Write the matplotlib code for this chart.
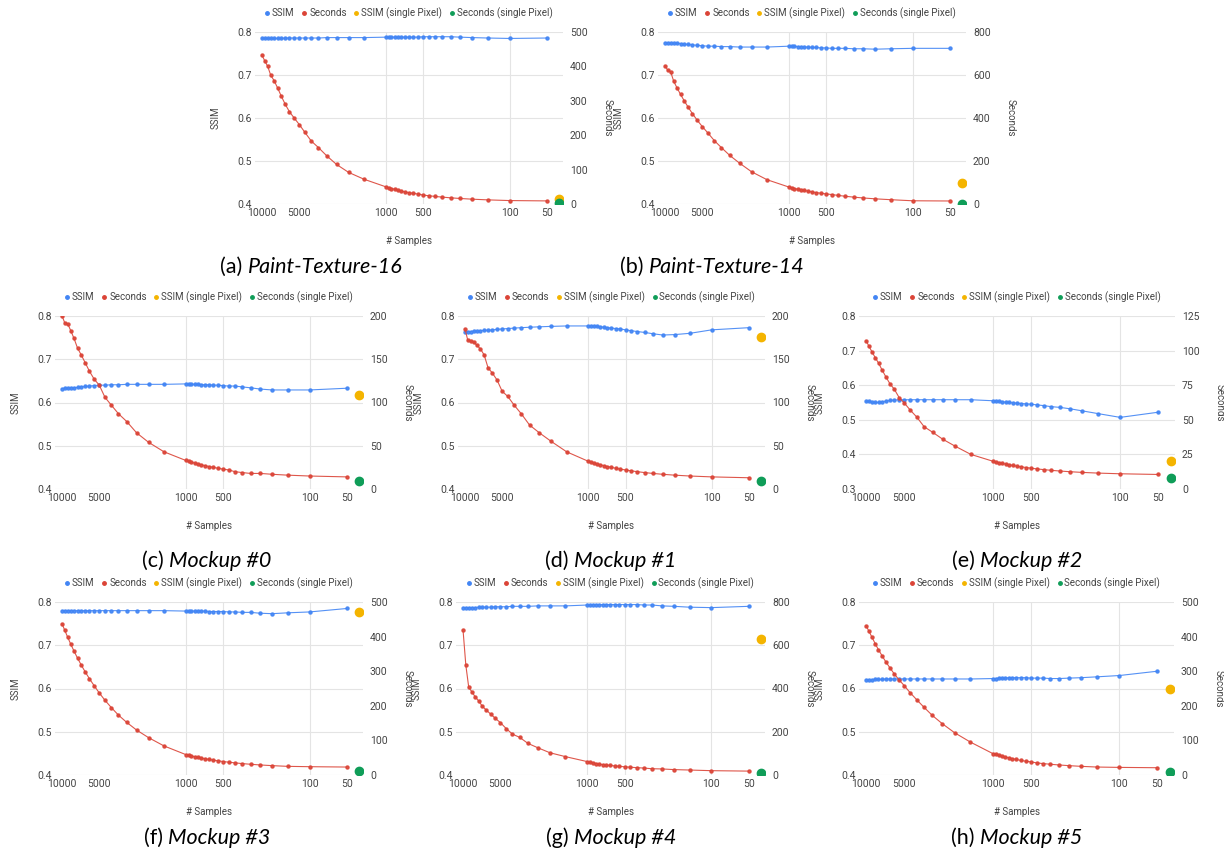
import matplotlib
matplotlib.use("Agg")
import matplotlib.pyplot as plt
from matplotlib.lines import Line2D

# ---------------- data ----------------
samples = [10000, 9500, 9000, 8500, 8000, 7500, 7000, 6500, 6000, 5500,
           5000, 4500, 4000, 3500, 3000, 2500, 2000, 1500, 1000, 950,
           900, 850, 800, 750, 700, 650, 600, 550, 500, 450,
           400, 350, 300, 250, 200, 150, 100, 50]
single_x = 40

captions = ["(a) ", "(b) ", "(c) ", "(d) ", "(e) ", "(f) ", "(g) ", "(h) "]
names = ["Paint-Texture-16", "Paint-Texture-14", "Mockup #0", "Mockup #1",
         "Mockup #2", "Mockup #3", "Mockup #4", "Mockup #5"]

sec_a = [432,416,400,374,359,338,314,290,268,250, 231,208,183,164,140,115,92,72,50,47,
         45,43,40,38,35,33,31,29,26,24, 22,20,18,16,14,12,10,9]
ssim_a = [0.785,0.785,0.785,0.785,0.785,0.785,0.785,0.786,0.786,0.786,
          0.786,0.786,0.786,0.786,0.787,0.787,0.787,0.787,0.788,0.788,
          0.788,0.788,0.788,0.788,0.788,0.788,0.788,0.788,0.789,0.789,
          0.789,0.789,0.789,0.788,0.787,0.786,0.785,0.786]
sec_b = [642,622,614,570,540,510,480,450,420,390, 360,330,295,262,226,190,150,113,79,76,
         72,69,66,63,60,56,53,50,47,44, 40,36,32,28,24,20,15,14]
ssim_b = [0.775,0.775,0.775,0.774,0.774,0.773,0.772,0.771,0.770,0.769,
          0.768,0.767,0.767,0.766,0.766,0.765,0.765,0.765,0.767,0.767,
          0.767,0.766,0.766,0.765,0.765,0.764,0.764,0.763,0.763,0.762,
          0.762,0.762,0.761,0.761,0.760,0.761,0.762,0.762]
sec_c = [200,192,191,183,174,163,155,146,136,127, 120,106,97,87,78,65,54,43,33,32,
         31,30,29,28,27,26,25,24,23,22, 20,19,18,18,17,16,15,14]
ssim_c = [0.632,0.633,0.633,0.634,0.634,0.635,0.636,0.637,0.638,0.639,
          0.640,0.640,0.641,0.641,0.642,0.642,0.642,0.642,0.643,0.643,
          0.642,0.642,0.642,0.641,0.641,0.641,0.640,0.640,0.639,0.638,
          0.638,0.636,0.634,0.631,0.629,0.629,0.629,0.633]
sec_d = [185,172,171,170,166,162,155,140,134,126, 113,107,97,87,74,65,55,43,32,31,
         30,29,28,27,26,25,24,23,22,21, 20,19,18,17,16,15,14,13]
ssim_d = [0.764,0.764,0.764,0.765,0.765,0.766,0.767,0.767,0.768,0.769,
          0.770,0.771,0.772,0.773,0.774,0.775,0.776,0.777,0.777,0.777,
          0.777,0.776,0.775,0.774,0.773,0.772,0.771,0.770,0.768,0.766,
          0.764,0.762,0.759,0.756,0.757,0.760,0.768,0.773]
sec_e = [107,103,99,95,91,86,81,76,72,66, 62,57,52,45,41,36,31,25,20,19.5,
         19,18.5,18,17.5,17,16.5,16,15.5,15,14.5, 14,13.5,13,12.5,12,11.5,11,10.5]
ssim_e = [0.553,0.553,0.551,0.550,0.550,0.552,0.554,0.556,0.557,0.558,
          0.558,0.558,0.558,0.558,0.558,0.558,0.558,0.558,0.555,0.554,
          0.553,0.552,0.551,0.550,0.549,0.548,0.547,0.546,0.545,0.543,
          0.541,0.538,0.536,0.532,0.526,0.518,0.507,0.522]
sec_f = [437,418,398,378,358,338,318,298,278,258, 237,216,195,173,152,130,108,84,59,57,
         55,53,51,49,47,45,43,41,39,37, 35,33,31,29,27,25,24,23]
ssim_f = [0.780,0.780,0.780,0.780,0.780,0.780,0.780,0.780,0.780,0.780,
          0.780,0.780,0.780,0.780,0.780,0.780,0.780,0.780,0.779,0.779,
          0.779,0.779,0.779,0.779,0.779,0.778,0.778,0.778,0.778,0.777,
          0.777,0.776,0.776,0.774,0.773,0.775,0.777,0.785]
sec_g = [669,508,405,385,362,343,318,300,282,262, 242,215,189,174,146,126,103,85,62,59,
         56,53,50,48,46,44,42,40,38,36, 34,32,29,28,25,23,20,18]
ssim_g = [0.787,0.787,0.787,0.787,0.787,0.788,0.788,0.788,0.788,0.789,
          0.789,0.789,0.790,0.790,0.790,0.791,0.791,0.791,0.793,0.793,
          0.794,0.794,0.794,0.794,0.794,0.794,0.794,0.794,0.794,0.794,
          0.794,0.793,0.793,0.791,0.790,0.788,0.787,0.790]
sec_h = [431,415,398,380,362,345,327,310,292,275, 258,238,218,196,172,148,122,95,62,60,
         57,55,52,50,47,45,42,40,38,35, 33,31,29,27,25,23,22,21]
ssim_h = [0.620,0.620,0.620,0.621,0.621,0.621,0.622,0.622,0.622,0.622,
          0.622,0.622,0.622,0.622,0.622,0.622,0.622,0.622,0.623,0.623,
          0.624,0.624,0.624,0.625,0.625,0.625,0.625,0.625,0.624,0.624,
          0.624,0.623,0.623,0.624,0.625,0.627,0.630,0.640]

ssim_single = [0.411, 0.45, 0.618, 0.752, 0.38, 0.777, 0.715, 0.60]
sec_single = [2, 1, 9, 9, 8, 12, 10, 10]

ssim_series = [ssim_a, ssim_b, ssim_c, ssim_d, ssim_e, ssim_f, ssim_g, ssim_h]
sec_series = [sec_a, sec_b, sec_c, sec_d, sec_e, sec_f, sec_g, sec_h]

ssim_ranges = [(0.4, 0.8), (0.4, 0.8), (0.4, 0.8), (0.4, 0.8), (0.3, 0.8),
               (0.4, 0.8), (0.4, 0.8), (0.4, 0.8)]
sec_ranges = [(500, 100), (800, 200), (200, 50), (200, 50), (125, 25),
              (500, 100), (800, 200), (500, 100)]

x_ticks = [10000, 5000, 1000, 500, 100, 50]
x_grid = [1000, 500, 100]
legend_labels = ["SSIM", "Seconds", "SSIM (single Pixel)", "Seconds (single Pixel)"]

# ---------------- layout (pixels) ----------------
W, H = 1224, 861
boxes = [(255, 563, 32, 204), (658, 966, 32, 204),
         (55, 363, 316, 489), (458, 765, 316, 489), (859, 1175, 316, 489),
         (55, 363, 602, 775), (456, 765, 602, 775), (859, 1174, 602, 775)]
cap_pos = [(311, 267), (712, 267),
           (207, 561), (611, 561), (1017, 561),
           (207, 838), (611, 838), (1017, 838)]

BLUE = "#4285F4"
RED = "#DB4437"
YEL = "#F4B400"
GRN = "#0F9D58"
TXT = "#444444"
GRID = "#e4e4e4"

plt.rcParams['font.family'] = ['Roboto', 'DejaVu Sans']

fig = plt.figure(figsize=(W / 100, H / 100), dpi=100)
cap_texts = []

for i in range(8):
    x0, x1, y0, y1 = boxes[i]
    ax = fig.add_axes([x0 / W, 1 - y1 / H, (x1 - x0) / W, (y1 - y0) / H])
    ax2 = ax.twinx()
    for a in (ax, ax2):
        for s in a.spines.values():
            s.set_visible(False)
    ax.set_xscale('log')
    ax.set_xlim(11400, 37)
    lo, hi = ssim_ranges[i]
    ax.set_ylim(lo, hi)
    nt = int(round((hi - lo) / 0.1)) + 1
    yt = [round(lo + 0.1 * k, 1) for k in range(nt)]
    ax.set_yticks(yt)
    ax.set_yticklabels([f"{v:.1f}" for v in yt])
    smax, sstep = sec_ranges[i]
    ax2.set_ylim(0, smax)
    st = list(range(0, smax + 1, sstep))
    ax2.set_yticks(st)
    ax2.set_yticklabels([str(v) for v in st])
    ax.set_xticks(x_ticks)
    ax.set_xticklabels([str(v) for v in x_ticks])
    ax.xaxis.set_minor_locator(matplotlib.ticker.NullLocator())
    ax.tick_params(axis='both', length=0, labelsize=7.5, labelcolor=TXT, pad=2)
    ax.tick_params(axis='x', pad=3)
    ax2.tick_params(axis='y', length=0, labelsize=7.5, labelcolor=TXT, pad=5)
    for v in yt:
        ax.axhline(v, color=GRID, lw=0.8, zorder=0)
    for v in x_grid:
        ax.axvline(v, color=GRID, lw=0.8, zorder=0)

    ax.plot(samples, ssim_series[i], color=BLUE, lw=0.8, marker='o', ms=2.2,
            mec=BLUE, mfc=BLUE, alpha=0.9, zorder=3)
    ax.plot([single_x], [ssim_single[i]], 'o', color=YEL, ms=6, zorder=4)
    ax2.plot(samples, sec_series[i], color=RED, lw=0.8, marker='o', ms=2.2,
             mec=RED, mfc=RED, alpha=0.9, zorder=3)
    ax2.plot([single_x], [sec_single[i]], 'o', color=GRN, ms=6, zorder=4)
    ax2.set_xlim(11400, 37)

    ax.set_ylabel("SSIM", fontsize=7, color=TXT, labelpad=12)
    ax2.set_ylabel("Seconds", fontsize=7, color=TXT, rotation=270, labelpad=18)
    ax.set_xlabel("# Samples", fontsize=7, color=TXT, labelpad=13)

    handles = [Line2D([], [], ls='none', marker='o', ms=2.5, color=c)
               for c in (BLUE, RED, YEL, GRN)]
    leg = ax.legend(handles, legend_labels, loc='center',
                    bbox_to_anchor=(0.5, 1 + 19 / (y1 - y0)),
                    ncol=4, frameon=False, fontsize=7, handlelength=0.4,
                    handletextpad=0.3, columnspacing=0.8, borderaxespad=0)
    for t in leg.get_texts():
        t.set_color(TXT)

    cx, cy = cap_pos[i]
    tp = fig.text(cx / W, 1 - cy / H, captions[i], fontsize=15.5, family='Lato',
                  ha='left', va='center', color='black')
    tn = fig.text(cx / W, 1 - cy / H, names[i], fontsize=15.5, family='Lato',
                  style='italic', ha='left', va='center', color='black')
    cap_texts.append((tp, tn, cx, cy))

# centre each caption (upright prefix + italic name) on its position
fig.canvas.draw()
r = fig.canvas.get_renderer()
for tp, tn, cx, cy in cap_texts:
    wp = tp.get_window_extent(r).width
    wn = tn.get_window_extent(r).width
    start = cx - (wp + wn) / 2
    tp.set_position((start / W, 1 - cy / H))
    tn.set_position(((start + wp) / W, 1 - cy / H))

fig.savefig("out.png", dpi=100)
